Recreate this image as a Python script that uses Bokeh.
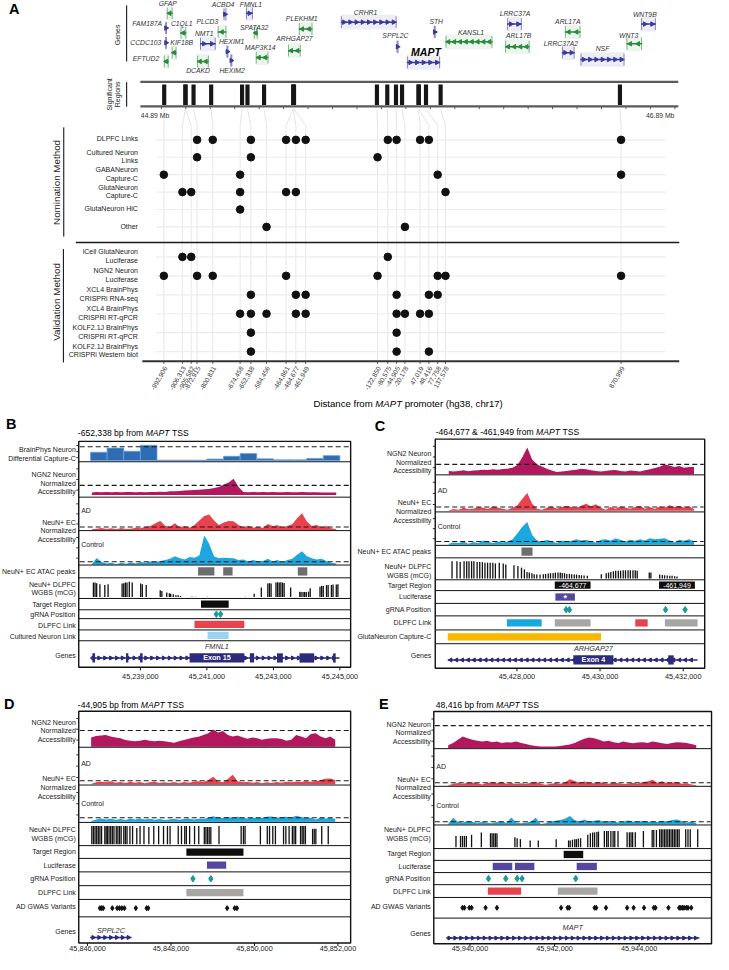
import numpy as np
from bokeh.plotting import figure
from bokeh.models import Range1d, ColumnDataSource
from bokeh.core.properties import value
from bokeh.embed import file_html
from bokeh.resources import INLINE

# =====================================================================
# DATA
# =====================================================================
# ---- Panel A: locus overview (chr17, hg38, Mb) ----
MAPT_TSS_MB = 45.8944
region_labels = ["-992,906", "-906,313", "-905,582", "-872,915", "-800,831",
                 "-674,458", "-652,338", "-584,456", "-464,861", "-464,677",
                 "-461,949", "-122,850", "-80,575", "-44,905", "-20,178",
                 "47,019", "48,416", "77,758", "137,578", "870,999"]
region_dist_bp = [-992906, -906313, -905582, -872915, -800831, -674458, -652338,
                  -584456, -464861, -464677, -461949, -122850, -80575, -44905,
                  -20178, 47019, 48416, 77758, 137578, 870999]
region_plot_mb = [44.900, 44.976, 45.012, 45.036, 45.100, 45.212, 45.256, 45.320,
                  45.400, 45.440, 45.480, 45.774, 45.816, 45.852, 45.886, 45.948,
                  45.984, 46.020, 46.052, 46.770]

nom_rows = [["DLPFC Links"], ["Cultured Neuron", "Links"], ["GABANeuron", "Capture-C"],
            ["GlutaNeuron", "Capture-C"], ["GlutaNeuron HiC"], ["Other"]]
nom_hits = [[3, 4, 6, 8, 9, 10, 12, 13, 15, 16, 19], [3, 6, 11], [0, 5, 17, 19],
            [1, 2, 5, 8, 9, 18], [5], [7, 14]]
val_rows = [["iCell GlutaNeuron", "Luciferase"], ["NGN2 Neuron", "Luciferase"],
            ["XCL4 BrainPhys", "CRISPRi RNA-seq"], ["XCL4 BrainPhys", "CRISPRi RT-qPCR"],
            ["KOLF2.1J BrainPhys", "CRISPRi RT-qPCR"], ["KOLF2.1J BrainPhys", "CRISPRi Western blot"]]
val_hits = [[1, 2, 12], [0, 3, 4, 8, 11, 17, 18, 19], [6, 9, 10, 13, 16, 17],
            [5, 6, 7, 9, 10, 13, 14, 15, 16], [6, 13], [6, 13, 16]]

gene_names = ["GFAP", "FAM187A", "C1QL1", "CCDC103", "KIF18B", "EFTUD2", "ACBD4", "FMNL1",
              "PLCD3", "NMT1", "HEXIM1", "HEXIM2", "DCAKD", "SPATA32", "MAP3K14", "PLEKHM1",
              "ARHGAP27", "CRHR1", "STH", "SPPL2C", "MAPT", "KANSL1", "LRRC37A", "ARL17B",
              "ARL17A", "LRRC37A2", "NSF", "WNT3", "WNT9B"]
gene_start_mb = [44.912, 44.906, 44.968, 44.906, 44.932, 44.900, 45.144, 45.236, 45.120, 45.048,
                 45.156, 45.172, 45.036, 45.268, 45.276, 45.452, 45.408, 45.624, 46.004, 45.852,
                 45.894, 46.052, 46.304, 46.296, 46.540, 46.528, 46.604, 46.792, 46.852]
gene_end_mb = [44.936, 44.912, 44.992, 44.912, 44.952, 44.920, 45.156, 45.264, 45.156, 45.112,
               45.164, 45.180, 45.084, 45.284, 45.328, 45.508, 45.460, 45.852, 46.012, 45.860,
               46.030, 46.244, 46.364, 46.396, 46.604, 46.580, 46.784, 46.856, 46.912]
gene_strand = ["-", "+", "-", "+", "-", "-", "+", "+", "-", "+", "+", "+", "-", "-", "-", "-",
               "-", "+", "+", "+", "+", "-", "+", "-", "-", "+", "+", "-", "+"]
gene_row = [1.0, 2.5, 3.0, 4.0, 5.0, 5.9, 1.1, 1.0, 2.9, 4.1, 4.9, 5.8, 5.9, 3.0, 5.5, 2.6,
            4.8, 1.9, 2.9, 4.4, 6.0, 3.9, 2.1, 4.4, 2.9, 5.0, 5.7, 4.1, 2.1]
gene_label_mb = [44.916, 44.832, 44.973, 44.826, 44.973, 44.827, 45.142, 45.256, 45.078, 45.065,
                 45.177, 45.179, 45.040, 45.269, 45.294, 45.464, 45.434, 45.725, 46.014, 45.847,
                 45.972, 46.156, 46.336, 46.351, 46.552, 46.524, 46.694, 46.801, 46.867]
gene_label_row = [0.05, 2.0, 2.0, 4.0, 4.0, 5.6, 0.1, 0.1, 1.87, 3.1, 3.87, 6.77, 6.77, 2.4, 4.47,
                  1.5, 3.57, 0.9, 1.8, 3.23, 4.9, 2.93, 1.03, 3.23, 1.87, 4.03, 4.6, 3.27, 1.13]
sig_axis_ticks_mb = [44.89, 46.89]
sig_axis_labels = ["44.89 Mb", "46.89 Mb"]

# ---- Panel B: -652,338 (FMNL1) ----
b_sig_start, b_sig_step = 45237540, 147
b_capc_start = [45237500, 45238000, 45238500, 45239000, 45239500, 45240000, 45240500, 45241000,
                45241500, 45242000, 45242500, 45243000, 45243500, 45244000, 45244500]
b_capc_val = [0.6, 0.9, 0.67, 1.1, 0.02, 0.02, 0.02, 0.1, 0.3, 0.5, 0.12, 0.05, 0.05, 0.15, 0.35]
CAPC_BIN = 500
b_ngn2 = [0.24, 0.31, 0.28, 0.31, 0.28, 0.31, 0.28, 0.31, 0.31, 0.28, 0.31, 0.28, 0.31, 0.31, 0.34,
          0.31, 0.38, 0.38, 0.41, 0.45, 0.48, 0.52, 0.55, 0.59, 0.62, 0.72, 0.83, 1.10, 1.31, 1.69,
          0.86, 0.31, 0.28, 0.31, 0.28, 0.31, 0.28, 0.31, 0.28, 0.28, 0.31, 0.28, 0.28, 0.31, 0.28,
          0.28, 0.28, 0.24, 0.24, 0.24, 0.24]
b_ad = [0.3, 0.5, 0.7, 0.4, 0.6, 0.3, 0.7, 0.4, 0.5, 0.8, 0.6, 1.1, 1.3, 2.1, 2.8, 1.4, 1.1, 2.1,
        0.9, 1.3, 0.8, 1.6, 2.9, 4.3, 4.7, 2.9, 1.6, 2.3, 2.8, 2.7, 1.6, 0.9, 1.4, 0.8, 1.1, 0.7,
        1.9, 1.3, 1.5, 0.9, 1.3, 1.8, 3.6, 5.1, 2.6, 1.3, 1.6, 0.9, 1.3, 0.6, 0.3]
b_ctrl = [0.2, 2.3, 0.9, 0.4, 0.7, 0.2, 0.7, 0.3, 0.8, 0.4, 0.9, 0.7, 1.2, 0.9, 1.3, 1.6, 2.0, 2.9,
          2.2, 1.8, 2.6, 2.4, 3.1, 9.9, 7.1, 2.9, 2.2, 2.4, 2.3, 2.2, 1.6, 1.8, 1.1, 1.6, 1.2, 1.3,
          2.0, 1.1, 1.6, 0.9, 1.6, 2.0, 3.4, 4.6, 2.9, 2.2, 1.8, 2.0, 1.3, 0.7, 0.4]
b_atac_start = [45240735, 45241491, 45243735]
b_atac_end = [45241226, 45241773, 45244020]
b_cpg_pos = [45237588, 45237637, 45237686, 45237784, 45237931, 45238029, 45238451, 45238500,
             45238549, 45238598, 45238667, 45238755, 45239010, 45239059, 45239176, 45239598,
             45239647, 45239794, 45239873, 45239912, 45239990, 45240069, 45240137, 45240206,
             45240529, 45240578, 45240676, 45241020, 45242147, 45242422, 45242637, 45242833,
             45242882, 45242931, 45243078, 45243127, 45243176, 45243225, 45243275, 45243324,
             45243520, 45243794, 45243833, 45243892, 45243941, 45243990, 45244059, 45244108,
             45244402, 45244451, 45244500, 45244598, 45244647, 45244745, 45244794, 45244892,
             45244941]
b_cpg_mcg = [0.78, 0.78, 0.75, 0.69, 0.65, 0.69, 0.73, 0.75, 0.78, 0.78, 0.82, 0.78, 0.73, 0.69,
             0.65, 0.36, 0.33, 0.24, 0.2, 0.18, 0.15, 0.09, 0.09, 0.05, 0.02, 0.02, 0.02, 0.01,
             0.02, 0.18, 0.51, 0.73, 0.75, 0.73, 0.78, 0.8, 0.78, 0.8, 0.78, 0.76, 0.51, 0.29,
             0.27, 0.27, 0.27, 0.27, 0.29, 0.47, 0.56, 0.6, 0.6, 0.64, 0.65, 0.65, 0.67, 0.67, 0.69]
b_target_start, b_target_end = [45240823], [45241656]
b_grna_pos = [45241284, 45241412]
b_dlpfc_start, b_dlpfc_end, b_dlpfc_class = [45240627], [45242127], ["red"]
b_cult_start, b_cult_end = [45241020], [45241656]
b_gene = ("FMNL1", 45237491, 45244990, "+")
b_gene_label_pos = 45241300
b_exon_start = [45237559, 45238568, 45238991, 45240480, 45242294, 45243108, 45243785, 45244794]
b_exon_end = [45237638, 45238638, 45239068, 45242127, 45242421, 45243285, 45244226, 45244873]
b_exon_name = ["", "", "", "Exon 15", "", "", "", ""]
b_ticks = [45239000, 45241000, 45243000, 45245000]

# ---- Panel C: -464,677 & -461,949 (ARHGAP27) ----
c_sig_start, c_sig_step = 45426361, 118
c_ngn2 = [0.33, 0.27, 0.33, 0.4, 0.3, 0.37, 0.4, 0.47, 0.43, 0.5, 0.47, 0.53, 0.57, 0.67, 0.93,
          1.73, 2.73, 1.5, 1.0, 0.8, 0.57, 0.37, 0.23, 0.27, 0.33, 0.4, 0.47, 0.57, 0.5, 0.4,
          0.33, 0.27, 0.33, 0.4, 0.43, 0.33, 0.27, 0.37, 0.33, 0.27, 0.4, 0.5, 0.63, 0.77, 1.0,
          0.9, 0.73, 0.83, 0.67, 0.73, 0.73]
c_ad = [0.09, 0.45, 0.27, 0.82, 0.36, 0.55, 1.0, 0.82, 0.45, 1.18, 0.82, 0.55, 0.27, 0.82, 1.45,
        3.27, 4.82, 1.91, 0.55, 0.27, 0.82, 1.18, 0.55, 1.0, 1.36, 1.0, 0.82, 1.36, 1.91, 1.18,
        1.73, 0.82, 0.27, 1.0, 0.55, 1.18, 0.82, 0.55, 1.0, 1.36, 0.55, 1.0, 0.45, 1.18, 0.82,
        1.45, 1.0, 1.36, 0.82, 1.18, 0.45]
c_ctrl = [0.3, 0.7, 0.5, 1.0, 0.3, 0.8, 0.5, 1.3, 0.9, 0.5, 1.0, 0.7, 1.0, 1.7, 3.5, 5.5, 7.0,
          3.0, 1.3, 0.9, 1.5, 1.0, 0.5, 1.3, 0.9, 1.2, 1.7, 1.3, 1.5, 1.0, 0.7, 1.5, 1.7, 1.3,
          1.9, 1.5, 1.0, 1.5, 1.2, 1.7, 1.3, 2.0, 1.7, 1.8, 2.0, 1.3, 0.7, 1.5, 1.2, 1.7, 1.0]
c_atac_start, c_atac_end = [45428110], [45428376]
c_cpg_pos = [45426439, 45426557, 45426635, 45426729, 45426792, 45426847, 45426910, 45426965,
             45427043, 45427106, 45427169, 45427231, 45427294, 45427357, 45427420, 45427482,
             45427576, 45427671, 45427733, 45427929, 45428024, 45428110, 45428180, 45428243,
             45428298, 45428361, 45428416, 45428478, 45428557, 45428635, 45428690, 45428753,
             45428808, 45428871, 45428925, 45428988, 45429043, 45429090, 45429145, 45429200,
             45429263, 45429318, 45429380, 45429435, 45429498, 45429553, 45429616, 45429694,
             45430031, 45430149, 45430204, 45430259, 45430322, 45430376, 45430439, 45430494,
             45430557, 45430612, 45430674, 45430729, 45430792, 45430847, 45430894, 45431184,
             45431223, 45431435, 45431498, 45431553, 45431616, 45431678, 45431733, 45431796,
             45431851]
c_cpg_mcg = [0.91, 0.91, 0.86, 0.91, 0.91, 0.91, 0.91, 0.91, 0.86, 0.86, 0.86, 0.83, 0.83, 0.83,
             0.83, 0.79, 0.83, 0.79, 0.74, 0.69, 0.66, 0.57, 0.48, 0.34, 0.31, 0.28, 0.22, 0.21,
             0.21, 0.22, 0.24, 0.26, 0.28, 0.29, 0.31, 0.31, 0.31, 0.29, 0.28, 0.24, 0.24, 0.22,
             0.21, 0.21, 0.19, 0.17, 0.16, 0.14, 0.22, 0.28, 0.31, 0.34, 0.38, 0.4, 0.4, 0.41,
             0.43, 0.43, 0.43, 0.43, 0.43, 0.43, 0.41, 0.31, 0.31, 0.21, 0.19, 0.17, 0.16, 0.14,
             0.14, 0.12, 0.10]
c_target_start = [45428911, 45431419]
c_target_end = [45429772, 45432282]
c_target_name = ["-464,677", "-461,949"]
c_luc_start, c_luc_end = [45428925], [45429395]
c_grna_pos = [45429184, 45429263, 45431576, 45432047]
c_dlpfc_start = [45427758, 45428911, 45430847, 45431560]
c_dlpfc_end = [45428595, 45429772, 45431146, 45432346]
c_dlpfc_class = ["cyan", "grey", "red", "grey"]
c_glut_start, c_glut_end = [45426336], [45430024]
c_gene = ("ARHGAP27", 45426336, 45432346, "-")
c_gene_label_pos = 45429840
c_exon_start = [45429358, 45431640]
c_exon_end = [45430322, 45431772]
c_exon_name = ["Exon 4", ""]
c_ticks = [45428000, 45430000, 45432000]

# ---- Panel D: -44,905 (SPPL2C) ----
d_sig_start, d_sig_step = 45846086, 117
d_ngn2 = [0.57, 0.67, 0.69, 0.73, 0.63, 0.57, 0.53, 0.41, 0.37, 0.33, 0.37, 0.43, 0.37, 0.33, 0.37,
          0.33, 0.29, 0.24, 0.33, 0.41, 0.49, 0.57, 0.61, 0.73, 0.84, 1.06, 0.88, 0.98, 0.73, 0.63,
          0.69, 0.59, 0.49, 0.57, 0.53, 0.43, 0.49, 0.53, 0.53, 0.47, 0.37, 0.43, 0.73, 0.63, 0.53,
          0.78, 0.84, 0.63, 0.53, 0.63, 0.43]
d_ad = [0.09, 0.55, 0.73, 0.55, 0.82, 0.45, 0.64, 0.36, 0.73, 0.45, 0.64, 0.27, 0.55, 0.73, 0.36,
        0.55, 0.36, 0.64, 0.27, 0.64, 0.45, 0.73, 0.82, 0.64, 1.18, 2.09, 0.82, 0.55, 1.45, 2.64,
        0.82, 0.55, 0.64, 0.45, 0.64, 0.27, 0.55, 0.36, 0.64, 0.45, 0.73, 0.55, 0.73, 0.64, 0.82,
        0.73, 0.82, 1.18, 1.55, 1.64, 1.18]
d_ctrl = [0.17, 0.58, 0.83, 0.58, 0.75, 0.5, 0.67, 0.42, 0.75, 0.58, 0.83, 0.58, 0.75, 0.5, 0.67,
          0.42, 0.58, 0.75, 0.5, 0.67, 0.83, 0.58, 0.75, 0.67, 1.0, 1.42, 1.08, 0.92, 1.17, 1.0,
          1.25, 1.0, 0.83, 1.08, 0.92, 1.0, 1.25, 1.33, 1.0, 1.17, 1.25, 1.08, 1.5, 1.17, 0.92,
          1.0, 0.58, 1.08, 0.83, 0.92, 0.75]
d_cpg_pos = [45846102, 45846141, 45846180, 45846219, 45846258, 45846297, 45846336, 45846414,
             45846446, 45846477, 45846516, 45846555, 45846594, 45846633, 45846688, 45846727,
             45846766, 45846805, 45846868, 45846907, 45846946, 45847016, 45847079, 45847180,
             45847258, 45847352, 45847469, 45847587, 45847704, 45847821, 45847915, 45847977,
             45848173, 45848251, 45848329, 45848368, 45848446, 45848564, 45848665, 45848798,
             45848837, 45848876, 45848915, 45848954, 45849150, 45849681, 45849736, 45849775,
             45850142, 45850307, 45850361, 45850439, 45850502, 45850697, 45850752, 45850830,
             45850908, 45850948, 45850987, 45851104, 45851143, 45851182, 45851221, 45851393,
             45851432, 45851471, 45851612, 45851768]
d_cpg_mcg = [0.95, 0.95, 0.95, 0.95, 0.95, 0.95, 0.95, 0.95, 0.95, 0.95, 0.95, 0.95, 0.95, 0.95,
             0.95, 0.95, 0.95, 0.95, 0.95, 0.95, 0.95, 0.95, 0.95, 0.85, 0.95, 0.95, 0.9, 0.95,
             0.95, 0.95, 0.95, 0.95, 0.95, 0.95, 0.95, 0.95, 0.95, 0.95, 0.95, 0.9, 0.9, 0.9, 0.9,
             0.9, 0.95, 0.95, 0.95, 0.95, 0.95, 0.95, 0.95, 0.95, 0.95, 0.95, 0.95, 0.95, 0.95,
             0.95, 0.95, 0.95, 0.95, 0.95, 0.95, 0.8, 0.8, 0.8, 0.95, 0.95]
d_target_start, d_target_end = [45848368], [45849736]
d_luc_start, d_luc_end = [45848861], [45849322]
d_grna_pos = [45848525, 45848954]
d_dlpfc_start, d_dlpfc_end, d_dlpfc_class = [45848368], [45849736], ["grey"]
d_gwas_pos = [45846297, 45846336, 45846375, 45846594, 45846711, 45846766, 45846821, 45846883,
              45847157, 45847415, 45847454, 45849345, 45849525, 45849580]
d_gene = ("SPPL2C", 45846063, 45847055, "+")
d_gene_label_pos = 45846560
d_ticks = [45846000, 45848000, 45850000, 45852000]

# ---- Panel E: 48,416 (MAPT) ----
e_sig_start, e_sig_step = 45939485, 115
e_ngn2 = [0.12, 0.22, 0.37, 0.51, 0.44, 0.37, 0.32, 0.29, 0.32, 0.26, 0.29, 0.22, 0.26, 0.24, 0.29,
          0.22, 0.18, 0.12, 0.09, 0.07, 0.06, 0.06, 0.07, 0.09, 0.12, 0.15, 0.22, 0.32, 0.41, 0.47,
          0.44, 0.37, 0.29, 0.32, 0.26, 0.22, 0.29, 0.25, 0.21, 0.24, 0.26, 0.22, 0.29, 0.26, 0.21,
          0.18, 0.22, 0.26, 0.25, 0.22, 0.18, 0.12]
e_ad = [0.09, 0.64, 0.91, 0.64, 1.0, 1.09, 0.82, 0.45, 0.91, 1.18, 0.82, 1.27, 0.64, 0.91, 0.55,
        0.82, 0.55, 1.0, 1.27, 0.64, 0.36, 0.55, 0.91, 0.64, 1.09, 2.09, 1.55, 1.0, 1.36, 1.0,
        0.82, 1.18, 0.91, 0.64, 1.09, 0.82, 0.55, 0.73, 1.0, 0.64, 1.18, 1.36, 1.91, 1.0, 1.45,
        0.82, 1.09, 1.18, 0.64, 0.82, 0.45, 0.18]
e_ctrl = [0.12, 2.5, 1.0, 0.62, 1.38, 1.0, 0.38, 1.0, 0.62, 0.38, 0.88, 1.12, 0.62, 2.62, 0.62,
          0.38, 0.62, 1.12, 2.5, 0.12, 0.38, 1.12, 1.38, 1.62, 2.12, 3.12, 1.62, 1.12, 1.88, 1.12,
          1.38, 1.62, 0.88, 1.25, 1.0, 0.75, 1.12, 1.5, 1.12, 1.0, 1.38, 1.0, 1.12, 0.88, 1.38,
          1.12, 1.62, 1.88, 1.25, 0.62, 1.12, 0.38]
e_cpg_pos = [45939669, 45939777, 45939823, 45939869, 45939915, 45940038, 45940269, 45940485,
             45940523, 45940562, 45940600, 45940638, 45941062, 45941115, 45941192, 45941423,
             45941615, 45942038, 45942331, 45942369, 45942423, 45942477, 45942515, 45942561,
             45942615, 45942785, 45942846, 45942900, 45942946, 45943000, 45943038, 45943177,
             45943231, 45943269, 45943331, 45943384, 45943423, 45943500, 45943715, 45943769,
             45943808, 45943846, 45943908, 45944100, 45944308, 45944346, 45944408, 45944484,
             45944523, 45944561, 45944600, 45944638, 45944677, 45944715, 45944754, 45944792,
             45944831, 45944869, 45944908, 45944946, 45945100, 45945154, 45945208, 45945384]
e_cpg_mcg = [0.6, 0.6, 0.6, 0.6, 0.6, 0.66, 0.78, 0.74, 0.74, 0.74, 0.74, 0.74, 0.53, 0.48, 0.43,
             0.36, 0.36, 0.43, 0.36, 0.36, 0.4, 0.43, 0.43, 0.47, 0.48, 0.66, 0.74, 0.78, 0.79,
             0.81, 0.83, 0.86, 0.86, 0.86, 0.86, 0.86, 0.86, 0.86, 0.79, 0.79, 0.79, 0.79, 0.79,
             0.86, 0.91, 0.91, 0.91, 0.95, 0.95, 0.95, 0.95, 0.95, 0.95, 0.95, 0.95, 0.95, 0.95,
             0.95, 0.95, 0.95, 0.95, 0.95, 0.95, 0.95]
e_target_start, e_target_end = [45942215], [45942677]
e_luc_start = [45940538, 45941062, 45942523]
e_luc_end = [45941000, 45941523, 45943000]
e_grna_pos = [45940438, 45940846, 45941115, 45941231, 45942500]
e_dlpfc_start, e_dlpfc_end, e_dlpfc_class = [45940423, 45942077], [45941208, 45943015], ["red", "grey"]
e_gwas_pos = [45939823, 45939869, 45939985, 45940038, 45940369, 45940638, 45942154, 45942308,
              45942346, 45942946, 45942985, 45943215, 45943715, 45943869, 45944115, 45944346,
              45944385, 45944692, 45944946, 45944985, 45945023, 45945062, 45945115, 45945154,
              45945231]
e_gene = ("MAPT", 45939438, 45945423, "+")
e_gene_label_pos = 45942430
e_ticks = [45940000, 45942000, 45944000]

# =====================================================================
# STYLE
# =====================================================================
NGN2_C, AD_C, CTRL_C, CAPC_C = "#b3175d", "#e8424f", "#1ea7de", "#2f6cb3"
ATAC_C, LUC_C, GRNA_C, NAVY = "#6e6e6e", "#55479d", "#1a9a9a", "#2b2a7c"
CULT_C, GLUT_C = "#9dd2f1", "#f9b700"
LINK_COLORS = {"red": "#e8424f", "grey": "#a8a5a5", "cyan": "#17a8df"}
GENE_BLUE, GENE_GREEN = "#3a3a9c", "#2a8a3e"
LABEL_C = "#222222"
FONT = value("Liberation Sans")

REF_W, REF_H = 729, 970
FIG_W, FIG_H = 713, 954

p = figure(width=FIG_W, height=FIG_H, x_range=Range1d(0, REF_W), y_range=Range1d(REF_H, 0),
           output_backend="svg", toolbar_location=None, x_axis_type=None, y_axis_type=None,
           min_border=0, background_fill_color="white", border_fill_color="white")
p.min_border_left = p.min_border_right = p.min_border_top = p.min_border_bottom = 0
p.grid.visible = False
p.outline_line_color = None


def add_xrange(name, Xa, ga, Xb, gb):
    s = (gb - ga) / (Xb - Xa)
    p.extra_x_ranges[name] = Range1d(ga - Xa * s, ga + (REF_W - Xa) * s)


def add_yrange(name, Ya, va, Yb, vb):
    s = (vb - va) / (Yb - Ya)
    p.extra_y_ranges[name] = Range1d(va + (REF_H - Ya) * s, va - Ya * s)


def rng(xr=None, yr=None):
    kw = {}
    if xr:
        kw["x_range_name"] = xr
    if yr:
        kw["y_range_name"] = yr
    return kw


TEXT = {}


def T(x, y, s, size=7.0, align="left", color="black", style="normal", angle=0.0,
      xr=None, yr=None, xoff=0.0, baseline="middle"):
    key = (xr, yr, size, align, color, style, angle, baseline)
    d = TEXT.setdefault(key, {"x": [], "y": [], "t": [], "o": []})
    d["x"].append(x); d["y"].append(y); d["t"].append(s); d["o"].append(xoff)


def flush_text():
    for (xr, yr, size, align, color, style, angle, baseline), d in TEXT.items():
        src = ColumnDataSource(dict(x=d["x"], y=d["y"], text=d["t"], xo=d["o"]))
        p.text(x="x", y="y", text="text", x_offset="xo", source=src, text_font=FONT,
               text_font_size=f"{size}px", text_align=align, text_baseline=baseline,
               text_color=color, text_font_style=style, angle=angle, **rng(xr, yr))


_W = {' ': 278, ',': 278, '-': 333, '.': 278, '&': 667, '(': 333, ')': 333, '+': 584}
for _c in '0123456789':
    _W[_c] = 556
_W.update(dict(zip('abcdefghijklmnopqrstuvwxyz',
                   [556, 556, 500, 556, 556, 278, 556, 556, 222, 222, 500, 222, 833, 556, 556,
                    556, 556, 333, 500, 278, 556, 500, 722, 500, 500, 500])))
_W.update(dict(zip('ABCDEFGHIJKLMNOPQRSTUVWXYZ',
                   [667, 667, 722, 722, 667, 611, 778, 722, 278, 500, 667, 556, 833, 722, 778,
                    667, 778, 722, 667, 611, 722, 667, 944, 667, 667, 611])))


def tw(s, size):
    return sum(_W.get(c, 556) for c in s) * size / 1000.0


def mixed(X, Y, parts, size):
    off = 0.0
    for t, st in parts:
        lead = len(t) - len(t.lstrip(' '))
        s = t.strip(' ')
        if s:
            T(X, Y, s, size, style=st, xoff=off + tw(' ' * lead, size))
        off += tw(t, size)


# =====================================================================
# PANEL A
# =====================================================================
add_xrange("A", 164.5, 44.89, 664.5, 46.89)
add_yrange("genesA", 3.0, 0.0, 63.0, 6.0)
T(14, 9, "A", 14.5, "center", style="bold")

# genes
gcols = [GENE_BLUE if s == "+" else GENE_GREEN for s in gene_strand]
p.quad(left=gene_start_mb, right=gene_end_mb, top=[r - 0.75 for r in gene_row],
       bottom=[r + 0.75 for r in gene_row], fill_color=gcols, fill_alpha=0.09, line_color=None,
       **rng("A", "genesA"))
p.segment(x0=gene_start_mb, x1=gene_end_mb, y0=gene_row, y1=gene_row, line_color=gcols,
          line_width=1.5, **rng("A", "genesA"))
ex_l, ex_r, ex_y, ex_c = [], [], [], []
for s, e, r, c in zip(gene_start_mb, gene_end_mb, gene_row, gcols):
    for a in (s, max(s, e - 0.004)):
        ex_l.append(a); ex_r.append(a + 0.004); ex_y.append(r); ex_c.append(c)
p.quad(left=ex_l, right=ex_r, top=[y - 0.6 for y in ex_y], bottom=[y + 0.6 for y in ex_y],
       fill_color=ex_c, fill_alpha=0.6, line_color=None, **rng("A", "genesA"))
ch_x, ch_y, ch_c, ch_a = [], [], [], []
for s, e, r, c, st in zip(gene_start_mb, gene_end_mb, gene_row, gcols, gene_strand):
    n = max(1, int((e - s) / 0.024))
    for k in range(n):
        ch_x.append(s + (e - s) * (k + 0.5) / n); ch_y.append(r); ch_c.append(c)
        ch_a.append(-np.pi / 2 if st == "+" else np.pi / 2)
p.scatter(x=ch_x, y=ch_y, marker="triangle", size=4.5, angle=ch_a, fill_color=ch_c,
          line_color=ch_c, **rng("A", "genesA"))
for nm, lx, lr in zip(gene_names, gene_label_mb, gene_label_row):
    if nm == "MAPT":
        T(lx, lr, nm, 10.5, "center", style="bold italic", xr="A", yr="genesA")
    else:
        T(lx, lr, nm, 6.8, "center", color="#333333", style="italic", xr="A", yr="genesA")

p.segment(x0=[129, 129], x1=[129, 129], y0=[5, 83], y1=[62, 108], line_color="black", line_width=1)
T(119.5, 35, "Genes", 7.0, "center", angle=np.pi / 2, color=LABEL_C)
T(111.5, 95.5, "Significant", 7.0, "center", angle=np.pi / 2, color=LABEL_C)
T(120, 95.5, "Regions", 7.0, "center", angle=np.pi / 2, color=LABEL_C)

# significant regions
sig_x = [MAPT_TSS_MB + d / 1e6 for d in region_dist_bp]
p.vbar(x=sig_x, width=0.017, top=85.5, bottom=106.3, fill_color="#161616", line_color=None,
       x_range_name="A")
p.segment(x0=[143, 143], x1=[693, 693], y0=[82.7, 107.7], y1=[82.7, 107.7],
          line_color="#5a5a5a", line_width=2.2)
tick_mb = [44.89 + 0.1 * k for k in range(22)]
p.segment(x0=tick_mb, x1=tick_mb, y0=107.7, y1=110.5, line_color="#5a5a5a", line_width=1,
          x_range_name="A")
T(143.5, 117, sig_axis_labels[0], 6.8, "left", color="#333333")
T(689, 117, sig_axis_labels[1], 6.8, "right", color="#333333")

# dot plot
add_yrange("nom", 141.7, 0, 230.2, 5)
add_yrange("val", 260.7, 0, 357.0, 5)
p.segment(x0=sig_x, x1=region_plot_mb, y0=110.5, y1=127, line_color="#dddddd", line_width=0.8,
          x_range_name="A")
p.segment(x0=region_plot_mb, x1=region_plot_mb, y0=127, y1=366, line_color="#e2e2e2",
          line_width=0.8, x_range_name="A")
p.segment(x0=159, x1=680, y0=list(range(6)), y1=list(range(6)), line_color="#ececec",
          line_width=1.2, y_range_name="nom")
p.segment(x0=159, x1=680, y0=list(range(6)), y1=list(range(6)), line_color="#ececec",
          line_width=1.2, y_range_name="val")
for rows, hits, yn, rowpx in ((nom_rows, nom_hits, "nom", 17.7), (val_rows, val_hits, "val", 19.26)):
    xs, ys = [], []
    for i, h in enumerate(hits):
        for c in h:
            xs.append(region_plot_mb[c]); ys.append(i)
    p.scatter(x=xs, y=ys, size=7.6, fill_color="#111111", line_color="#111111",
              **rng("A", yn))
    for i, lab in enumerate(rows):
        if len(lab) == 1:
            T(140.5, i - 0.05, lab[0], 7.0, "right", color=LABEL_C, yr=yn)
        else:
            T(140.5, i - 5.0 / rowpx, lab[0], 7.0, "right", color=LABEL_C, yr=yn)
            T(140.5, i + 3.4 / rowpx, lab[1], 7.0, "right", color=LABEL_C, yr=yn)

p.segment(x0=[64.7, 64.3], x1=[64.7, 64.3], y0=[129, 252.7], y1=[240, 368], line_color="black",
          line_width=1)
T(57, 185, "Nomination Method", 9.8, "center", angle=np.pi / 2, color=LABEL_C)
T(57.5, 306.5, "Validation Method", 9.8, "center", angle=np.pi / 2, color=LABEL_C)
p.segment(x0=[77], x1=[694], y0=[246], y1=[246], line_color="#1a1a1a", line_width=1.6)
p.segment(x0=[145], x1=[694], y0=[366.7], y1=[366.7], line_color="#333333", line_width=2)
p.segment(x0=region_plot_mb, x1=region_plot_mb, y0=366.7, y1=369.5, line_color="#333333",
          line_width=0.8, x_range_name="A")
for x, lab in zip(region_plot_mb, region_labels):
    T(x, 372.5, lab, 6.6, "right", color="#333333", angle=np.pi / 3, xr="A", xoff=1.5)
mixed(320, 410, [("Distance from ", "normal"), ("MAPT", "italic"),
                 (" promoter (hg38, chr17)", "normal")], 9.6)


# =====================================================================
# PANELS B - E
# =====================================================================
def panel(P):
    n = P["id"]
    X0, X1 = P["box"]
    add_xrange(n, P["tick_X"][0], P["ticks"][0], P["tick_X"][1], P["ticks"][-1])
    tr = {k: (a, b) for k, a, b in P["tracks"]}
    top, bot = P["tracks"][0][1], P["tracks"][-1][2]
    bpx = (P["ticks"][-1] - P["ticks"][0]) / (P["tick_X"][1] - P["tick_X"][0])

    # signal tracks
    tick_ys = []
    for key, vals, color, baseY, dashY, start, step in P["signals"]:
        yn = f"{n}_{key}"
        add_yrange(yn, baseY, 0.0, dashY, 1.0)
        if key == "capc":
            p.quad(left=start, right=[s + step for s in start], top=vals, bottom=0,
                   fill_color=color, line_color="#6b9fd8", line_width=0.8, **rng(n, yn))
        else:
            xs = [start + step * i for i in range(len(vals))]
            p.varea(x=xs, y1=0, y2=vals, fill_color=color, **rng(n, yn))
        p.segment(x0=[X0 + 1], x1=[X1 - 1], y0=[1.0], y1=[1.0], line_color="#1a1a1a",
                  line_width=1.1, line_dash="5 3", **rng(None, yn))
        a, b = tr[key]
        tick_ys += [a + (b - a) * f for f in (0.2, 0.5, 0.8)]
    p.segment(x0=X0 - 2.5, x1=X0, y0=tick_ys, y1=tick_ys, line_color="black", line_width=0.8)

    # WGBS
    yn = f"{n}_wgbs"
    add_yrange(yn, P["wgbs_base"], 0.0, P["wgbs_full"], 1.0)
    pos, mcg = P["cpg"]
    p.segment(x0=pos, x1=pos, y0=0, y1=mcg, line_color="#111111", line_width=1.3, **rng(n, yn))

    # interval tracks
    def rects(key, starts, ends, colors, half=3.7):
        a, b = tr[key]
        c = (a + b) / 2
        p.quad(left=starts, right=ends, top=c - half, bottom=c + half, fill_color=colors,
               line_color=None, x_range_name=n)
        return c

    for key, starts, ends, colors in P["intervals"]:
        rects(key, starts, ends, colors, 4.2 if key == "atac" else 3.7)
    if "target_names" in P:
        a, b = tr["target"]
        for s, e, nm in zip(P["target"][0], P["target"][1], P["target_names"]):
            T((s + e) / 2, (a + b) / 2, nm, 7.0, "center", color="white", xr=n)
    if "luc_star" in P:
        a, b = tr["luc"]
        for s, e in zip(*P["luc_star"]):
            T((s + e) / 2, (a + b) / 2 + 0.8, "*", 9.0, "center", color="white", style="bold", xr=n)
    a, b = tr["grna"]
    p.scatter(x=P["grna"], y=(a + b) / 2, marker="diamond", size=6.5, fill_color=GRNA_C,
              line_color=GRNA_C, x_range_name=n)
    if "gwas" in P:
        a, b = tr["gwas"]
        p.scatter(x=P["gwas"], y=(a + b) / 2, marker="diamond", size=5, fill_color="#111111",
                  line_color="#111111", x_range_name=n)

    # gene model
    gname, gs, ge, gstr = P["gene"]
    gY = P["gene_Y"]
    p.segment(x0=[gs], x1=[ge], y0=[gY], y1=[gY], line_color=NAVY, line_width=1.5, x_range_name=n)
    chs = list(np.arange(gs + 3 * bpx, ge - 2 * bpx, 6 * bpx))
    p.scatter(x=chs, y=gY, marker="triangle", size=4,
              angle=(-np.pi / 2 if gstr == "+" else np.pi / 2), fill_color=NAVY,
              line_color=NAVY, x_range_name=n)
    p.segment(x0=chs, x1=chs, y0=gY - 1.8, y1=gY + 1.8, line_color=NAVY, line_width=0.8,
              x_range_name=n)
    if "exons" in P:
        es, ee, en = P["exons"]
        p.quad(left=es, right=ee, top=gY - 4.7, bottom=gY + 4.7, fill_color=NAVY,
               line_color=None, x_range_name=n)
        for s, e, nm in zip(es, ee, en):
            if nm:
                T((s + e) / 2, gY, nm, 7.2, "center", color="white", style="bold", xr=n)
    T(P["gene_label_pos"], P["gene_label_Y"], gname, 7.3, "center", color="#333333",
      style="italic", xr=n)

    # frame & separators
    seps = [t[2] for t in P["tracks"][:-1]]
    p.segment(x0=X0, x1=X1, y0=seps, y1=seps, line_color="#111111", line_width=1)
    p.quad(left=[X0], right=[X1], top=[top], bottom=[bot], fill_color=None,
           line_color="#111111", line_width=1.4)

    # axis
    p.segment(x0=P["ticks"], x1=P["ticks"], y0=bot, y1=bot + 3, line_color="#111111",
              line_width=1, x_range_name=n)
    for t in P["ticks"]:
        T(t, P["tick_label_Y"], f"{t:,}", 7.3, "center", color=LABEL_C, xr=n)

    # labels
    for s, y in P["labels"]:
        T(P["label_X"], y, s, 7.0, "right", color=LABEL_C)
    for s, y in P["inner"]:
        T(X0 + 2.5, y, s, 7.0, "left", color=LABEL_C)
    mixed(P["title_X"], P["title_Y"], P["title"], 8.6)
    T(P["letter"][0], P["letter"][1], n, 14.5, "center", style="bold")


def cls_colors(classes):
    return [LINK_COLORS[c] for c in classes]


panel(dict(
    id="B", box=(80, 358), tick_X=(143, 347), ticks=b_ticks, tick_label_Y=687,
    tracks=[("capc", 448.3, 469), ("ngn2", 469, 505), ("ad", 505, 539), ("ctrl", 539, 574),
            ("atac", 574, 587), ("wgbs", 587, 608), ("target", 608, 619.5),
            ("grna", 619.5, 628.5), ("dlpfc", 628.5, 640), ("cult", 640, 651),
            ("genes", 651, 678)],
    signals=[("capc", b_capc_val, CAPC_C, 467.7, 453.7, b_capc_start, CAPC_BIN),
             ("ngn2", b_ngn2, NGN2_C, 502.7, 493.0, b_sig_start, b_sig_step),
             ("ad", b_ad, AD_C, 538.7, 535.3, b_sig_start, b_sig_step),
             ("ctrl", b_ctrl, CTRL_C, 573.7, 570.7, b_sig_start, b_sig_step)],
    wgbs_base=606.5, wgbs_full=587.7, cpg=(b_cpg_pos, b_cpg_mcg),
    intervals=[("atac", b_atac_start, b_atac_end, ATAC_C),
               ("target", b_target_start, b_target_end, "#0d0d0d"),
               ("dlpfc", b_dlpfc_start, b_dlpfc_end, cls_colors(b_dlpfc_class)),
               ("cult", b_cult_start, b_cult_end, CULT_C)],
    grna=b_grna_pos, gene=b_gene, gene_Y=668.5, gene_label_pos=b_gene_label_pos,
    gene_label_Y=656.7, exons=(b_exon_start, b_exon_end, b_exon_name),
    labels=[("BrainPhys Neuron", 456.7), ("Differential Capture-C", 465.5),
            ("NGN2 Neuron", 482.3), ("Normalized", 490.6), ("Accessibility", 499.3),
            ("NeuN+ EC", 530.7), ("Normalized", 539.3), ("Accessibility", 548.3),
            ("NeuN+ EC ATAC peaks", 581), ("NeuN+ DLPFC", 593.3), ("WGBS (mCG)", 602.3),
            ("Target Region", 614.3), ("gRNA Position", 624.3), ("DLPFC Link", 635.7),
            ("Cultured Neuron Link", 646.7), ("Genes", 666)],
    label_X=77, inner=[("AD", 518.3), ("Control", 553.3)],
    title=[("-652,338 bp from ", "normal"), ("MAPT", "italic"), (" TSS", "normal")],
    title_X=79, title_Y=440, letter=(11, 431)))

panel(dict(
    id="C", box=(444.5, 720), tick_X=(528, 698), ticks=c_ticks, tick_label_Y=687,
    tracks=[("ngn2", 446, 482.3), ("ad", 482.3, 520), ("ctrl", 520, 554), ("atac", 554, 566.7),
            ("wgbs", 566.7, 589), ("target", 589, 600), ("luc", 600, 613),
            ("grna", 613, 625.7), ("dlpfc", 625.7, 640), ("glut", 640, 654),
            ("genes", 654, 679)],
    signals=[("ngn2", c_ngn2, NGN2_C, 481.7, 471.7, c_sig_start, c_sig_step),
             ("ad", c_ad, AD_C, 518.7, 515.0, c_sig_start, c_sig_step),
             ("ctrl", c_ctrl, CTRL_C, 553.3, 550.0, c_sig_start, c_sig_step)],
    wgbs_base=587.7, wgbs_full=568.3, cpg=(c_cpg_pos, c_cpg_mcg),
    intervals=[("atac", c_atac_start, c_atac_end, ATAC_C),
               ("target", c_target_start, c_target_end, "#0d0d0d"),
               ("luc", c_luc_start, c_luc_end, LUC_C),
               ("dlpfc", c_dlpfc_start, c_dlpfc_end, cls_colors(c_dlpfc_class)),
               ("glut", c_glut_start, c_glut_end, GLUT_C)],
    target=(c_target_start, c_target_end), target_names=c_target_name,
    luc_star=(c_luc_start, c_luc_end),
    grna=c_grna_pos, gene=c_gene, gene_Y=670.5, gene_label_pos=c_gene_label_pos,
    gene_label_Y=659, exons=(c_exon_start, c_exon_end, c_exon_name),
    labels=[("NGN2 Neuron", 460.7), ("Normalized", 469.3), ("Accessibility", 478.3),
            ("NeuN+ EC", 510.7), ("Normalized", 519.7), ("Accessibility", 528.7),
            ("NeuN+ EC ATAC peaks", 560.7), ("NeuN+ DLPFC", 575.7), ("WGBS (mCG)", 584.3),
            ("Target Region", 594.5), ("Luciferase", 606.5), ("gRNA Position", 619.3),
            ("DLPFC Link", 632.8), ("GlutaNeuron Capture-C", 647), ("Genes", 666)],
    label_X=440.5, inner=[("AD", 498.3), ("Control", 535)],
    title=[("-464,677 & -461,949 from ", "normal"), ("MAPT", "italic"), (" TSS", "normal")],
    title_X=445, title_Y=439, letter=(388, 433)))

panel(dict(
    id="D", box=(80, 358), tick_X=(89, 345), ticks=d_ticks, tick_label_Y=964,
    tracks=[("ngn2", 722.7, 759.3), ("ad", 759.3, 797.7), ("ctrl", 797.7, 835.7),
            ("wgbs", 835.7, 859.3), ("target", 859.3, 872.3), ("luc", 872.3, 886),
            ("grna", 886, 900), ("dlpfc", 900, 914), ("gwas", 914, 931.7),
            ("genes", 931.7, 958.3)],
    signals=[("ngn2", d_ngn2, NGN2_C, 758.7, 742.3, d_sig_start, d_sig_step),
             ("ad", d_ad, AD_C, 797.0, 793.3, d_sig_start, d_sig_step),
             ("ctrl", d_ctrl, CTRL_C, 835.0, 831.0, d_sig_start, d_sig_step)],
    wgbs_base=858, wgbs_full=838.3, cpg=(d_cpg_pos, d_cpg_mcg),
    intervals=[("target", d_target_start, d_target_end, "#0d0d0d"),
               ("luc", d_luc_start, d_luc_end, LUC_C),
               ("dlpfc", d_dlpfc_start, d_dlpfc_end, cls_colors(d_dlpfc_class))],
    grna=d_grna_pos, gwas=d_gwas_pos, gene=d_gene, gene_Y=952.7,
    gene_label_pos=d_gene_label_pos, gene_label_Y=945.5,
    labels=[("NGN2 Neuron", 734), ("Normalized", 742.7), ("Accessibility", 751.7),
            ("NeuN+ EC", 790.7), ("Normalized", 800), ("Accessibility", 809.3),
            ("NeuN+ DLPFC", 842.7), ("WGBS (mCG)", 851.7), ("Target Region", 865.7),
            ("Luciferase", 880), ("gRNA Position", 892.7), ("DLPFC Link", 906.7),
            ("AD GWAS Variants", 921.5), ("Genes", 946.7)],
    label_X=77, inner=[("AD", 776), ("Control", 816)],
    title=[("-44,905 bp from ", "normal"), ("MAPT", "italic"), (" TSS", "normal")],
    title_X=79, title_Y=716, letter=(9, 715.5)))

panel(dict(
    id="E", box=(443, 727), tick_X=(480, 653), ticks=e_ticks, tick_label_Y=964,
    tracks=[("ngn2", 723, 760.7), ("ad", 760.7, 799), ("ctrl", 799, 838.3),
            ("wgbs", 838.3, 862.3), ("target", 862.3, 874.3), ("luc", 874.3, 886.7),
            ("grna", 886.7, 899), ("dlpfc", 899, 912), ("gwas", 912, 933),
            ("genes", 933, 959)],
    signals=[("ngn2", e_ngn2, NGN2_C, 760.0, 737.3, e_sig_start, e_sig_step),
             ("ad", e_ad, AD_C, 798.5, 795.3, e_sig_start, e_sig_step),
             ("ctrl", e_ctrl, CTRL_C, 837.7, 835.0, e_sig_start, e_sig_step)],
    wgbs_base=861, wgbs_full=841.7, cpg=(e_cpg_pos, e_cpg_mcg),
    intervals=[("target", e_target_start, e_target_end, "#0d0d0d"),
               ("luc", e_luc_start, e_luc_end, LUC_C),
               ("dlpfc", e_dlpfc_start, e_dlpfc_end, cls_colors(e_dlpfc_class))],
    grna=e_grna_pos, gwas=e_gwas_pos, gene=e_gene, gene_Y=953.3,
    gene_label_pos=e_gene_label_pos, gene_label_Y=942.7,
    labels=[("NGN2 Neuron", 735.7), ("Normalized", 744.3), ("Accessibility", 753.3),
            ("NeuN+ EC", 791.7), ("Normalized", 800.7), ("Accessibility", 809.3),
            ("NeuN+ DLPFC", 842.7), ("WGBS (mCG)", 851.7), ("Target Region", 867.3),
            ("Luciferase", 880.5), ("gRNA Position", 892.7), ("DLPFC Link", 905.5),
            ("AD GWAS Variants", 921.5), ("Genes", 948.3)],
    label_X=440, inner=[("AD", 779), ("Control", 818)],
    title=[("48,416 bp from ", "normal"), ("MAPT", "italic"), (" TSS", "normal")],
    title_X=445, title_Y=716, letter=(392, 715.5)))

flush_text()
open("out.html", "w").write(file_html(p, INLINE, "MAPT enhancer figure"))
